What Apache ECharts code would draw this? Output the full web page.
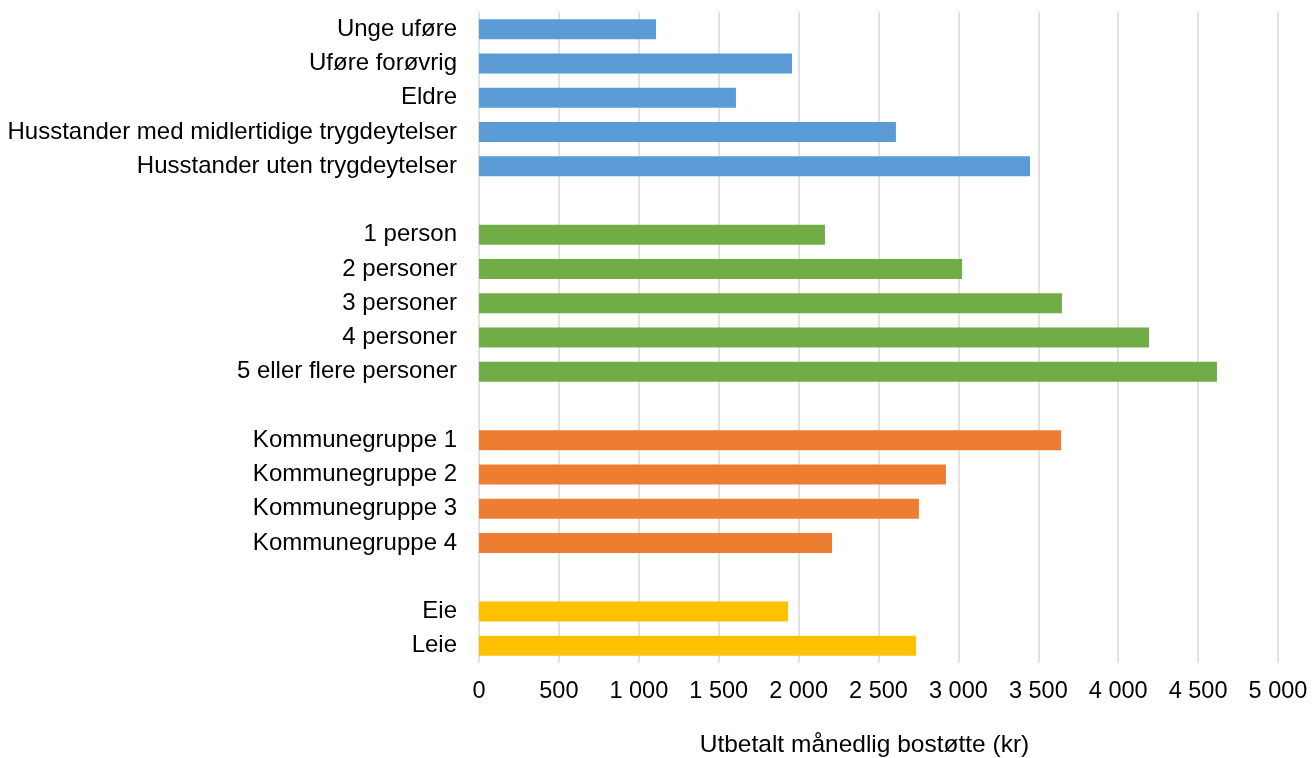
<!DOCTYPE html>
<html>
<head>
<meta charset="utf-8">
<script src="https://cdn.jsdelivr.net/npm/echarts@6/dist/echarts.min.js"></script>
<style>html,body{margin:0;padding:0;background:#fff}#c{width:1312px;height:758px}</style>
</head>
<body>
<div id="c"></div>
<script>
// Groups of categories (top to bottom) and values (kr per month)
const trygdCategories = ['Unge uføre', 'Uføre forøvrig', 'Eldre', 'Husstander med midlertidige trygdeytelser', 'Husstander uten trygdeytelser'];
const trygdValues = [1108, 1959, 1608, 2609, 3448];
const personCategories = ['1 person', '2 personer', '3 personer', '4 personer', '5 eller flere personer'];
const personValues = [2165, 3023, 3648, 4193, 4618];
const kommuneCategories = ['Kommunegruppe 1', 'Kommunegruppe 2', 'Kommunegruppe 3', 'Kommunegruppe 4'];
const kommuneValues = [3642, 2922, 2753, 2209];
const eieCategories = ['Eie', 'Leie'];
const eieValues = [1934, 2735];
const groupColors = ['#5B9BD5', '#70AD47', '#ED7D31', '#FFC000'];
const xTicks = [0, 500, 1000, 1500, 2000, 2500, 3000, 3500, 4000, 4500, 5000];
const xAxisTitle = 'Utbetalt månedlig bostøtte (kr)';

const groups = [
  [trygdCategories, trygdValues],
  [personCategories, personValues],
  [kommuneCategories, kommuneValues],
  [eieCategories, eieValues]
];
const categories = [];
const data = [];
groups.forEach((g, gi) => {
  if (gi > 0) { categories.push(' '.repeat(gi)); data.push('-'); }
  g[0].forEach((c, i) => {
    categories.push(c);
    data.push({ value: g[1][i], itemStyle: { color: groupColors[gi] } });
  });
});

const fmt = v => String(v).replace(/\B(?=(\d{3})+(?!\d))/g, ' ');
const FF = 'Liberation Sans, Arial, sans-serif';

const chart = echarts.init(document.getElementById('c'), null, { renderer: 'canvas' });
chart.setOption({
  animation: false,
  backgroundColor: '#fff',
  textStyle: { fontFamily: FF },
  grid: { left: 479, right: 34, top: 12, bottom: 95, containLabel: false, outerBoundsMode: 'none' },
  xAxis: {
    type: 'value',
    min: xTicks[0],
    max: xTicks[xTicks.length - 1],
    interval: 500,
    axisLine: { show: false },
    axisTick: { show: false },
    splitLine: { show: true, lineStyle: { color: '#d9d9d9', width: 1.5 } },
    axisLabel: { formatter: fmt, color: '#000', fontSize: 23.5, margin: 17, fontFamily: FF },
    name: xAxisTitle,
    nameLocation: 'middle',
    nameGap: 70,
    nameTextStyle: { color: '#000', fontSize: 24.5, padding: [0, 28, 0, 0], fontFamily: FF }
  },
  yAxis: {
    type: 'category',
    inverse: true,
    data: categories,
    axisLine: { show: false },
    axisTick: { show: false },
    axisLabel: { color: '#000', fontSize: 24, margin: 22, interval: 0, fontFamily: FF }
  },
  series: [{
    type: 'bar',
    data: data,
    barWidth: 20
  }]
});
</script>
</body>
</html>
